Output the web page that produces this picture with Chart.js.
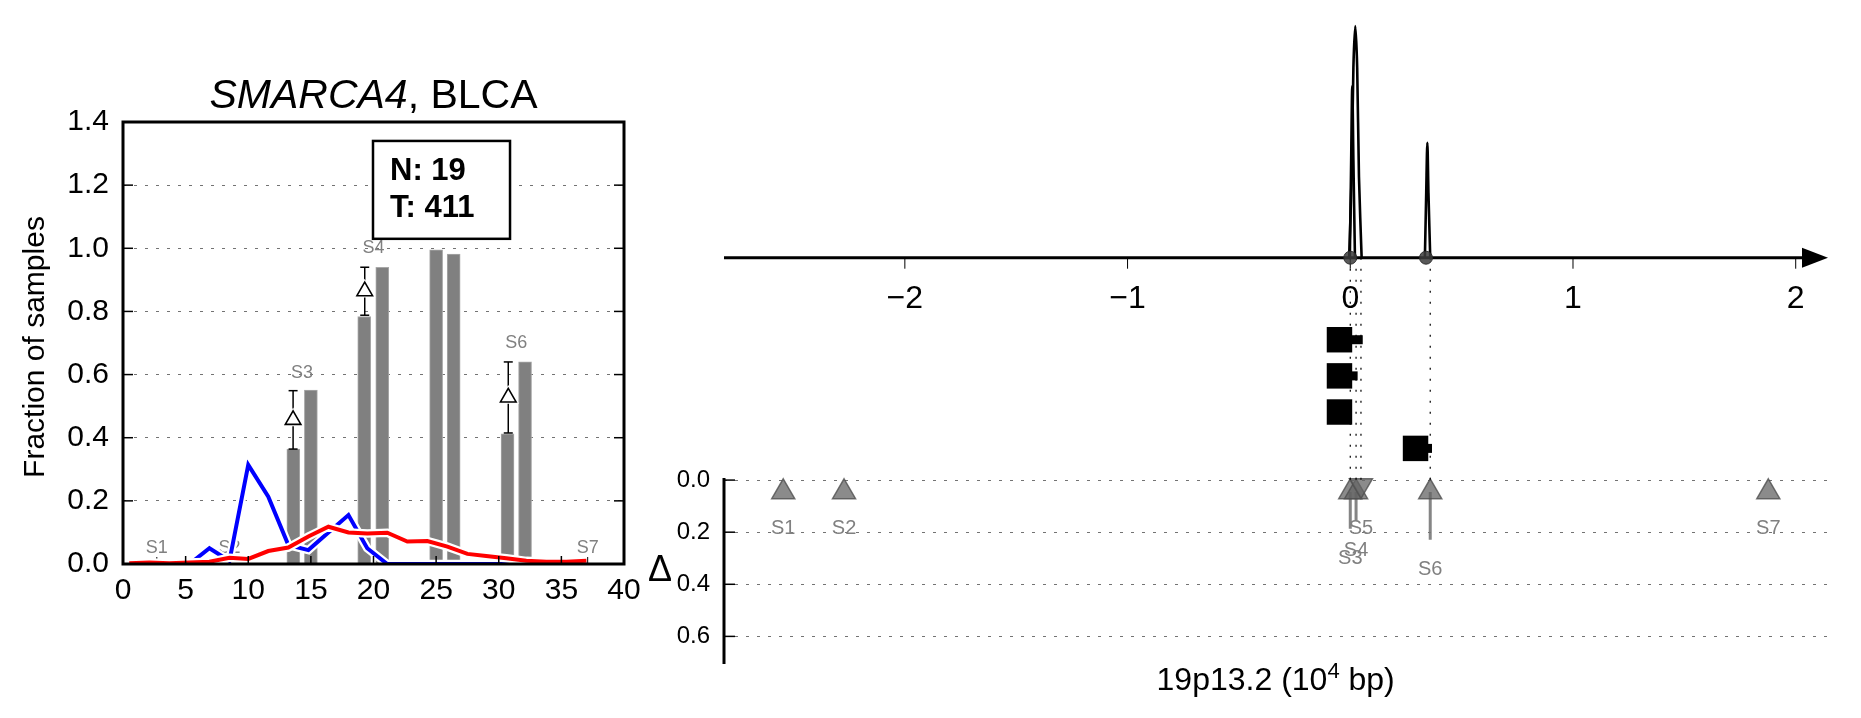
<!DOCTYPE html>
<html>
<head>
<meta charset="utf-8">
<script src="https://cdn.jsdelivr.net/npm/chart.js@4.4.0/dist/chart.umd.min.js"></script>
<style>
body { margin: 0; background: #fff; width: 1861px; height: 718px; position: relative; overflow: hidden; }
canvas { position: absolute; }
#left { left: 0; top: 0; }
#bottom { left: 640px; top: 440px; }
#top { left: 640px; top: 0; }
</style>
</head>
<body>
<canvas id="bottom" width="1221" height="278"></canvas>
<canvas id="top" width="1221" height="480"></canvas>
<canvas id="left" width="660" height="718"></canvas>
<script>
// ---- left panel: SMARCA4, BLCA ----
const lineX = [0.5, 2.1, 3.7, 5.3, 6.9, 8.5, 10.0, 11.6, 13.2, 14.8, 16.4, 18.0,
               19.5, 21.1, 22.7, 24.3, 25.9, 27.5, 29.0, 30.6, 32.2, 33.8, 35.4, 37.0];
const blueVals = [0, 0, 0, 0, 0.05, 0.01, 0.314, 0.213, 0.06, 0.044, 0.10, 0.155,
                  0.05, 0, 0, 0, 0, 0, 0, 0, 0, 0, 0, 0];
const redVals = [0.002, 0.005, 0.002, 0.005, 0.007, 0.02, 0.016, 0.041, 0.052, 0.087, 0.118, 0.10,
                 0.097, 0.099, 0.071, 0.073, 0.055, 0.032, 0.025, 0.018, 0.01, 0.007, 0.007, 0.01];
const barX = [13.6, 15.0, 19.26, 20.7, 25.0, 26.4, 30.7, 32.1];
const barVals = [0.364, 0.551, 0.784, 0.94, 0.995, 0.982, 0.412, 0.64];
const errX = [13.58, 19.3, 30.76];
const errLo = [0.364, 0.788, 0.415];
const errHi = [0.549, 0.94, 0.64];
const leftLabels = ['S1', 'S2', 'S3', 'S4', 'S6', 'S7'];
const leftLabelX = [2.7, 8.5, 14.3, 20.0, 31.4, 37.1];
const leftLabelY = [0.05, 0.05, 0.605, 1.0, 0.70, 0.05];
const leftXTicks = [0, 5, 10, 15, 20, 25, 30, 35, 40];
const leftYTicks = [0, 0.2, 0.4, 0.6, 0.8, 1.0, 1.2, 1.4];
const nCount = 19;
const tCount = 411;

// ---- right panel ----
const axisTicks = [-2, -1, 0, 1, 2];
const peakAX = [-0.005, 0.006, 0.014, 0.0225, 0.031, 0.039, 0.051];
const peakAY = [0, 0.35, 0.82, 1.0, 0.82, 0.35, 0];
const peakBX = [-0.002, 0.004, 0.009, 0.014, 0.021];
const peakBY = [0, 0.42, 0.74, 0.42, 0];
const peakCX = [0.335, 0.341, 0.346, 0.351, 0.359];
const peakCY = [0, 0.28, 0.496, 0.28, 0];
const dotX = [0, 0.34];
const boxX = [-0.0485, -0.0485, -0.0485, 0.293];
const boxY = [-0.354, -0.51, -0.666, -0.823];
const boxEnd = [0.056, 0.033, null, 0.367];
const siteNames = ['S1', 'S2', 'S3', 'S4', 'S5', 'S6', 'S7'];
const siteX = [-2.546, -2.273, 0.0, 0.026, 0.048, 0.359, 1.877];
const siteDelta = [0, 0, 0.187, 0.156, 0, 0.229, 0];
const siteDir = [1, 1, 1, 1, -1, 1, 1];
const guideX = [0.0, 0.026, 0.048, 0.359];
const deltaTicks = [0, 0.2, 0.4, 0.6];

const FONT = "'Liberation Sans', Arial, sans-serif";
const base = {
    responsive: false,
    animation: false,
    devicePixelRatio: 1,
    events: [],
    plugins: { legend: { display: false }, tooltip: { enabled: false } }
};

function seg(ctx, x1, y1, x2, y2) {
    ctx.beginPath();
    ctx.moveTo(x1, y1);
    ctx.lineTo(x2, y2);
    ctx.stroke();
}

const leftExtras = {
    id: 'leftExtras',
    beforeDatasetsDraw(chart) {
        const { ctx, chartArea: a, scales: { x, y } } = chart;
        ctx.save();
        ctx.fillStyle = '#808080';
        ctx.strokeStyle = '#000';
        ctx.lineWidth = 1;
        ctx.font = '18px ' + FONT;
        ctx.textAlign = 'center';
        ctx.textBaseline = 'middle';
        leftLabels.forEach((t, i) => {
            const px = x.getPixelForValue(leftLabelX[i]);
            ctx.fillText(t, px, y.getPixelForValue(leftLabelY[i]));
            // small site mark on the bottom spine for labels sitting at the floor
            if (leftLabelY[i] < 0.1) seg(ctx, px, a.bottom, px, a.bottom - 7);
        });
        ctx.restore();
    },
    afterDraw(chart) {
        const { ctx, chartArea: a, scales: { x, y } } = chart;
        ctx.save();
        ctx.strokeStyle = '#000';
        ctx.lineWidth = 1.5;
        leftYTicks.slice(1, -1).forEach(v => {
            const py = y.getPixelForValue(v);
            seg(ctx, a.left, py, a.left + 10, py);
            seg(ctx, a.right - 10, py, a.right, py);
        });
        leftXTicks.slice(1, -1).forEach(v => {
            const px = x.getPixelForValue(v);
            seg(ctx, px, a.bottom, px, a.bottom - 8);
        });
        ctx.lineWidth = 3;
        ctx.strokeRect(a.left, a.top, a.width, a.height);

        // N / T box
        const bx1 = x.getPixelForValue(19.96), bx2 = x.getPixelForValue(30.9);
        const by1 = y.getPixelForValue(1.34), by2 = y.getPixelForValue(1.03);
        ctx.fillStyle = '#fff';
        ctx.fillRect(bx1, by1, bx2 - bx1, by2 - by1);
        ctx.lineWidth = 2.5;
        ctx.strokeRect(bx1, by1, bx2 - bx1, by2 - by1);
        ctx.fillStyle = '#000';
        ctx.font = 'bold 31px ' + FONT;
        ctx.textAlign = 'left';
        ctx.textBaseline = 'alphabetic';
        ctx.fillText('N: ' + nCount, bx1 + 17, by1 + 39);
        ctx.fillText('T: ' + tCount, bx1 + 17, by1 + 76);

        // title
        const cx = (a.left + a.right) / 2;
        ctx.font = 'italic 41px ' + FONT;
        const w1 = ctx.measureText('SMARCA4').width;
        ctx.font = '41px ' + FONT;
        const w2 = ctx.measureText(', BLCA').width;
        const sx = cx - (w1 + w2) / 2;
        ctx.font = 'italic 41px ' + FONT;
        ctx.fillText('SMARCA4', sx, 108);
        ctx.font = '41px ' + FONT;
        ctx.fillText(', BLCA', sx + w1, 108);

        // y label
        ctx.save();
        ctx.translate(44, (a.top + a.bottom) / 2 + 4);
        ctx.rotate(-Math.PI / 2);
        ctx.textAlign = 'center';
        ctx.font = '30px ' + FONT;
        ctx.fillText('Fraction of samples', 0, 0);
        ctx.restore();
        ctx.restore();
    }
};

const pts = (xs, ys) => xs.map((v, i) => ({ x: v, y: ys[i] }));
const errMid = errX.map((v, i) => ({ x: v, y: (errLo[i] + errHi[i]) / 2 }));

new Chart(document.getElementById('left'), {
    type: 'scatter',
    data: {
        datasets: [
            { type: 'bar', data: pts(barX, barVals), backgroundColor: '#808080', borderColor: '#a8a8a8',
              borderWidth: 1, barThickness: 13, order: 10 },
            { type: 'line', data: pts(lineX, blueVals), borderColor: '#fff', borderWidth: 8.5, pointRadius: 0, order: 9 },
            { type: 'line', data: pts(lineX, blueVals), borderColor: '#0000ff', borderWidth: 4, pointRadius: 0, order: 8 },
            { type: 'line', data: pts(lineX, redVals), borderColor: '#fff', borderWidth: 8.5, pointRadius: 0, order: 7 },
            { type: 'line', data: pts(lineX, redVals), borderColor: '#ff0000', borderWidth: 4, pointRadius: 0, order: 6 },
            ...errX.map((v, i) => ({
                type: 'line', data: [{ x: v, y: errLo[i] }, { x: v, y: errHi[i] }],
                borderColor: '#000', borderWidth: 1.5, pointStyle: 'line', pointRadius: 4.5,
                pointBorderColor: '#000', pointBorderWidth: 1.5, order: 5
            })),
            { type: 'scatter', data: errMid, pointStyle: 'triangle', pointRadius: 12.5,
              pointBackgroundColor: '#fff', pointBorderColor: '#fff', pointBorderWidth: 0, order: 4 },
            { type: 'scatter', data: errMid, pointStyle: 'triangle', pointRadius: 9,
              pointBackgroundColor: '#fff', pointBorderColor: '#000', pointBorderWidth: 1.6, order: 3 }
        ]
    },
    options: {
        ...base,
        layout: { autoPadding: false, padding: { left: 0, right: 36, top: 122, bottom: 0 } },
        scales: {
            x: {
                type: 'linear', min: 0, max: 40, offset: false,
                afterBuildTicks: s => { s.ticks = leftXTicks.map(v => ({ value: v })); },
                afterFit: s => { s.height = 154; },
                grid: { display: false, offset: false },
                border: { display: false },
                ticks: { color: '#000', font: { family: FONT, size: 30 }, padding: 1, maxRotation: 0 }
            },
            y: {
                min: 0, max: 1.4,
                afterBuildTicks: s => { s.ticks = leftYTicks.map(v => ({ value: v })); },
                afterFit: s => { s.width = 123; },
                grid: { color: 'rgba(0,0,0,0.55)', lineWidth: 1, drawTicks: false },
                border: { display: false, dash: [3, 8] },
                ticks: { color: '#000', font: { family: FONT, size: 30 }, padding: 14,
                         callback: v => v.toFixed(1) }
            }
        }
    },
    plugins: [leftExtras]
});

// ---- right, Δ section ----
const headY = siteDir.map(d => d > 0 ? 0.046 : 0.02);
const headBase = 0.07;
const bottomExtras = {
    id: 'bottomExtras',
    afterDraw(chart) {
        const { ctx, chartArea: a, scales: { x, y } } = chart;
        ctx.save();
        ctx.strokeStyle = '#000';
        ctx.lineWidth = 1.5;
        deltaTicks.forEach(v => {
            const py = y.getPixelForValue(v);
            seg(ctx, a.left, py, a.left + 11, py);
        });
        ctx.lineWidth = 3;
        seg(ctx, a.left, a.top, a.left, a.bottom);

        ctx.fillStyle = '#808080';
        ctx.font = '20px ' + FONT;
        ctx.textAlign = 'center';
        ctx.textBaseline = 'middle';
        siteNames.forEach((t, i) => {
            const py = Math.max(y.getPixelForValue(siteDelta[i]), y.getPixelForValue(headBase)) + 30;
            ctx.fillText(t, x.getPixelForValue(siteX[i]), py);
        });

        ctx.fillStyle = '#000';
        ctx.font = '36px ' + FONT;
        ctx.fillText('\u0394', 20, (a.top + a.bottom) / 2);

        // x label with superscript
        ctx.textBaseline = 'alphabetic';
        ctx.textAlign = 'left';
        const p1 = '19p13.2 (10', p2 = '4', p3 = ' bp)';
        ctx.font = '32px ' + FONT;
        const w1 = ctx.measureText(p1).width, w3 = ctx.measureText(p3).width;
        ctx.font = '22px ' + FONT;
        const w2 = ctx.measureText(p2).width;
        const cx = x.getPixelForValue(-0.335);
        let sx = cx - (w1 + w2 + w3) / 2;
        const by = 250;
        ctx.font = '32px ' + FONT;
        ctx.fillText(p1, sx, by);
        ctx.font = '22px ' + FONT;
        ctx.fillText(p2, sx + w1, by - 12);
        ctx.font = '32px ' + FONT;
        ctx.fillText(p3, sx + w1 + w2, by);
        ctx.restore();
    }
};

new Chart(document.getElementById('bottom'), {
    type: 'scatter',
    data: {
        datasets: [
            ...siteX.map((v, i) => siteDelta[i] > headBase ? {
                type: 'line', data: [{ x: v, y: headY[i] }, { x: v, y: siteDelta[i] }],
                borderColor: 'rgba(120,120,120,0.9)', borderWidth: 3, pointRadius: 0, order: 2
            } : null).filter(d => d),
            { type: 'scatter', data: pts(siteX, headY), pointStyle: 'triangle', pointRadius: 13.3,
              pointRotation: siteDir.map(d => d > 0 ? 0 : 180),
              pointBackgroundColor: 'rgba(100,100,100,0.75)', pointBorderColor: 'rgba(80,80,80,0.8)',
              pointBorderWidth: 1.5, order: 1, clip: false }
        ]
    },
    options: {
        ...base,
        layout: { autoPadding: false, padding: { left: 0, right: 33, top: 38, bottom: 54 } },
        scales: {
            x: { type: 'linear', min: -2.812, max: 2.145, display: false },
            y: {
                reverse: true, min: -0.008, max: 0.706,
                afterBuildTicks: s => { s.ticks = deltaTicks.map(v => ({ value: v })); },
                afterFit: s => { s.width = 84; },
                grid: { color: 'rgba(0,0,0,0.55)', lineWidth: 1, drawTicks: false },
                border: { display: false, dash: [3, 8] },
                ticks: { color: '#000', font: { family: FONT, size: 24 }, padding: 14,
                         callback: v => v.toFixed(1) }
            }
        }
    },
    plugins: [bottomExtras]
});

// ---- right, genome axis section ----
const topExtras = {
    id: 'topExtras',
    beforeDatasetsDraw(chart) {
        const { ctx, chartArea: a, scales: { x, y } } = chart;
        const y0 = y.getPixelForValue(0);
        ctx.save();
        ctx.strokeStyle = '#000';
        ctx.lineWidth = 3;
        seg(ctx, a.left, y0, a.right - 20, y0);
        ctx.lineWidth = 1;
        ctx.fillStyle = '#000';
        ctx.font = '32px ' + FONT;
        ctx.textAlign = 'center';
        ctx.textBaseline = 'alphabetic';
        axisTicks.forEach(v => {
            const px = x.getPixelForValue(v);
            seg(ctx, px, y0, px, y0 + 11);
            ctx.fillText(v < 0 ? '\u2212' + Math.abs(v) : String(v), px, y0 + 50);
        });
        ctx.beginPath();
        ctx.moveTo(a.right, y0);
        ctx.lineTo(a.right - 26, y0 - 10);
        ctx.lineTo(a.right - 26, y0 + 10);
        ctx.closePath();
        ctx.fill();
        ctx.restore();
    }
};

const guideSets = guideX.map(v => ({
    type: 'line', data: [{ x: v, y: 0 }, { x: v, y: -0.96 }],
    borderColor: '#000', borderWidth: 1.2, borderDash: [2, 9], pointRadius: 0, order: 6
}));
const stubSets = boxX.map((v, i) => boxEnd[i] === null ? null : {
    type: 'line', data: [{ x: v, y: boxY[i] }, { x: boxEnd[i], y: boxY[i] }],
    borderColor: '#000', borderWidth: 9, borderCapStyle: 'butt', pointRadius: 0, order: 3
}).filter(d => d);
const peakStyle = { type: 'line', borderColor: '#000', borderWidth: 2.6, pointRadius: 0, tension: 0.3, clip: false, order: 4 };

new Chart(document.getElementById('top'), {
    type: 'scatter',
    data: {
        datasets: [
            ...guideSets,
            { ...peakStyle, data: pts(peakAX, peakAY) },
            { ...peakStyle, data: pts(peakBX, peakBY) },
            { ...peakStyle, data: pts(peakCX, peakCY) },
            { type: 'scatter', data: dotX.map(v => ({ x: v, y: 0 })), pointRadius: 6.5,
              pointBackgroundColor: 'rgba(60,60,60,0.85)', pointBorderColor: 'rgba(40,40,40,0.9)',
              pointBorderWidth: 1, order: 2, clip: false },
            ...stubSets,
            { type: 'scatter', data: pts(boxX, boxY), pointStyle: 'rect', pointRadius: 18,
              pointBackgroundColor: '#000', pointBorderColor: '#000', pointBorderWidth: 0, order: 1 }
        ]
    },
    options: {
        ...base,
        layout: { autoPadding: false, padding: { left: 84, right: 33, top: 26, bottom: 0 } },
        scales: {
            x: { type: 'linear', min: -2.812, max: 2.145, display: false },
            y: { min: -0.9594, max: 1.0, display: false }
        }
    },
    plugins: [topExtras]
});
</script>
</body>
</html>
